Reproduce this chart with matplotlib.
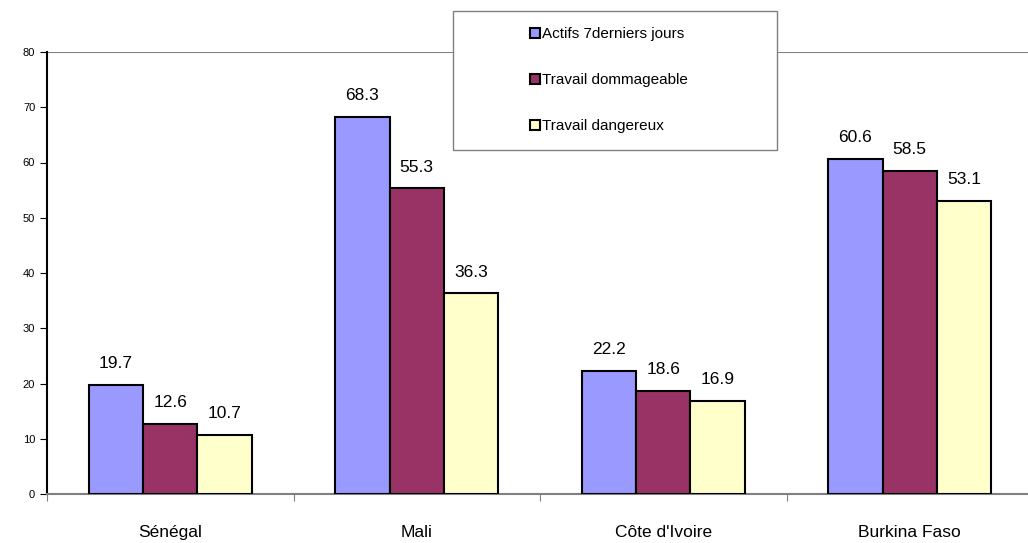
import numpy as np
import matplotlib
matplotlib.use("Agg")
import matplotlib.pyplot as plt
from matplotlib.patches import Patch, Rectangle

plt.rcParams['font.family'] = ['Liberation Sans', 'DejaVu Sans']

countries = ["Sénégal", "Mali", "Côte d'Ivoire", "Burkina Faso"]
series_names = ["Actifs 7derniers jours", "Travail dommageable", "Travail dangereux"]
actifs = [19.7, 68.3, 22.2, 60.6]
dommageable = [12.6, 55.3, 18.6, 58.5]
dangereux = [10.7, 36.3, 16.9, 53.1]
colors = ["#9999FF", "#993366", "#FFFFCC"]

W, H = 1028, 543
fig = plt.figure(figsize=(W / 100, H / 100), dpi=100)
ax = fig.add_axes([47/W, 1 - 494/H, 986/W, 442/H])

x = np.arange(len(countries))
w = 0.221
for i, (vals, c) in enumerate(zip([actifs, dommageable, dangereux], colors)):
    pos = x + (i - 1) * w
    ax.bar(pos, vals, width=w, color=c, edgecolor='black', linewidth=1.5, zorder=3)
    for p, v in zip(pos, vals):
        ax.annotate(f"{v:.1f}", (p, v), xytext=(0, 10), textcoords='offset points',
                    ha='center', va='bottom', fontsize=12.5)

ax.set_xlim(-0.5, len(countries) - 0.5)
ax.set_ylim(0, 80)
ax.set_yticks(range(0, 81, 10))
ax.tick_params(axis='y', labelsize=8, length=5, width=0.8)
ax.axhline(80, color='#808080', linewidth=1.5, zorder=1)

ax.set_xticks(x)
ax.set_xticklabels(countries, fontsize=12.5)
ax.tick_params(axis='x', length=0, pad=22)
ax.set_xticks(np.arange(len(countries)) - 0.5, minor=True)
ax.tick_params(axis='x', which='minor', length=5, width=0.8, color='#808080')

for s in ['top', 'right']:
    ax.spines[s].set_visible(False)
ax.spines['left'].set_linewidth(1.5)
ax.spines['bottom'].set_color('#808080')
ax.spines['bottom'].set_linewidth(1.5)

# legend box
box = Rectangle((453/W, 1 - 150/H), (777 - 453)/W, (150 - 11)/H,
                transform=fig.transFigure, facecolor='white',
                edgecolor='#808080', linewidth=1.0, zorder=5)
fig.patches.append(box)

handles = [Patch(facecolor=c, edgecolor='black', linewidth=1.5) for c in colors]
leg = fig.legend(handles, series_names, loc='upper left',
                 bbox_to_anchor=(530/W, 1 - 27/H),
                 fontsize=11, frameon=False,
                 handlelength=0.65, handleheight=0.65, handletextpad=0.15,
                 labelspacing=2.1, borderpad=0, borderaxespad=0)
leg.set_zorder(6)

fig.savefig("out.png", dpi=100)
